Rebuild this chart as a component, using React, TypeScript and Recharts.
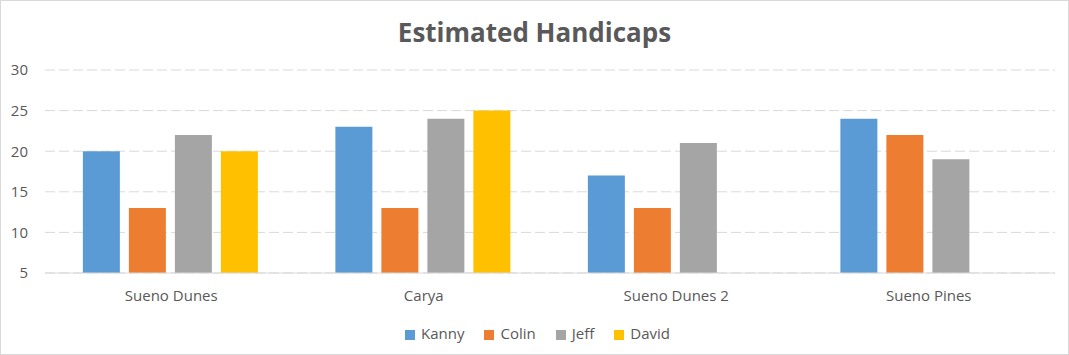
import React from "react";
import { BarChart, Bar, XAxis, YAxis, CartesianGrid, Legend } from "recharts";

const categories = ["Sueno Dunes", "Carya", "Sueno Dunes 2", "Sueno Pines"];
const kanny = [20, 23, 17, 24];
const colin = [13, 13, 13, 22];
const jeff = [22, 24, 21, 19];
const david: (number | null)[] = [20, 25, null, null];
const yTicks = [5, 10, 15, 20, 25, 30];

const data = categories.map((c, i) => ({
  name: c,
  Kanny: kanny[i],
  Colin: colin[i],
  Jeff: jeff[i],
  David: david[i],
}));

const FONT = "'Open Sans', 'Liberation Sans', sans-serif";

export default function App() {
  return (
    <div style={{ position: "relative", width: 1069, height: 355, background: "#fff", fontFamily: FONT }}>
      <style>{`body{margin:0}`}</style>
      <div
        style={{
          position: "absolute",
          left: 0,
          top: 0,
          width: 1067,
          height: 353,
          border: "1px solid #D9D9D9",
        }}
      />
      <div
        style={{
          position: "absolute",
          left: 0,
          top: 13,
          width: 1069,
          textAlign: "center",
          fontSize: 26,
          fontWeight: 700,
          color: "#595959",
          lineHeight: "38px",
        }}
      >
        Estimated Handicaps
      </div>
      <div style={{ position: "absolute", left: 0, top: 0 }}>
        <BarChart
          width={1069}
          height={355}
          data={data}
          margin={{ top: 70, right: 14, bottom: 22, left: 0 }}
          barCategoryGap="15%"
          barGap={9}
        >
          <CartesianGrid vertical={false} stroke="#D9D9D9" strokeDasharray="10 4" />
          <XAxis
            dataKey="name"
            axisLine={{ stroke: "#D9D9D9" }}
            tickLine={false}
            tickSize={0}
            tickMargin={17}
            interval={0}
            tick={{ fill: "#595959", fontSize: 15, fontFamily: FONT }}
            height={40}
          />
          <YAxis
            domain={[5, 30]}
            ticks={yTicks}
            interval={0}
            axisLine={false}
            tickLine={false}
            tickSize={0}
            tickMargin={17}
            width={45}
            tick={{ fill: "#595959", fontSize: 15, fontFamily: FONT }}
          />
          <Legend
            verticalAlign="bottom"
            align="center"
            iconType="square"
            iconSize={10}
            itemSorter={null as any}
            wrapperStyle={{ bottom: 12, left: 20, fontSize: 15, fontFamily: FONT }}
            formatter={(v: string) => <span style={{ color: "#595959", marginLeft: 2, marginRight: 10 }}>{v}</span>}
          />
          <Bar dataKey="Kanny" fill="#5B9BD5" isAnimationActive={false} />
          <Bar dataKey="Colin" fill="#ED7D31" isAnimationActive={false} />
          <Bar dataKey="Jeff" fill="#A5A5A5" isAnimationActive={false} />
          <Bar dataKey="David" fill="#FFC000" isAnimationActive={false} />
        </BarChart>
      </div>
    </div>
  );
}
